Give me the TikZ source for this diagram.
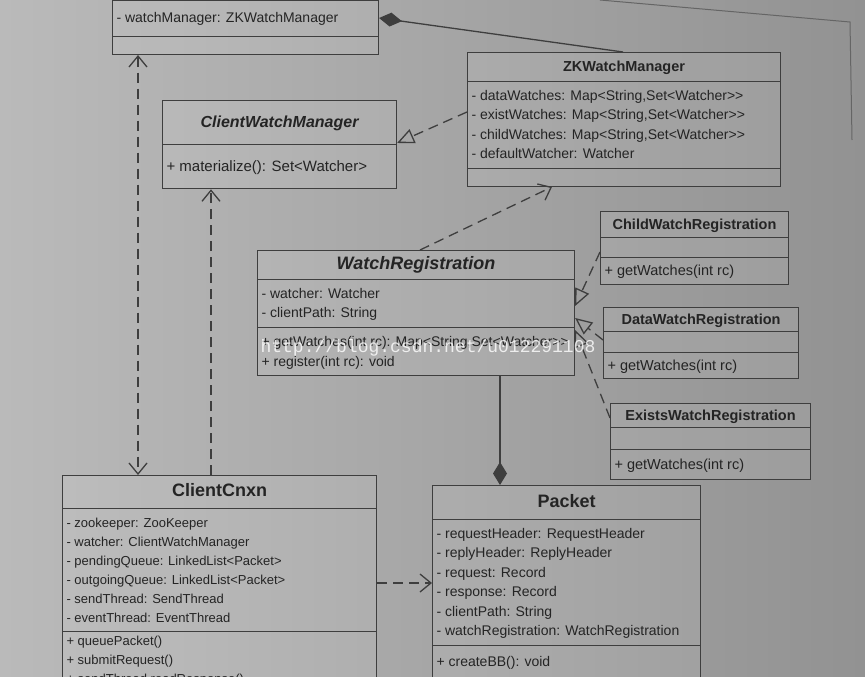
\documentclass[tikz,border=0pt]{standalone}
\usepackage{fontspec}
\setmainfont[Ligatures=TeXOff]{Liberation Sans}
\newfontfamily\wmfont{Liberation Mono}
\usetikzlibrary{shapes.multipart,arrows.meta}
\definecolor{linec}{RGB}{62,62,62}
\definecolor{textc}{RGB}{36,36,36}
\definecolor{bgl}{RGB}{186,186,186}
\definecolor{bgm}{RGB}{222,222,222}
\definecolor{bgr}{RGB}{146,146,146}
% one row of given height, text centred in it
\newcommand{\rowtx}[2]{\rule[\dimexpr4.5pt-#1/2\relax]{0pt}{#1}#2}
\newcommand{\ttl}[3]{\rowtx{#2}{{\fontsize{#1}{#1}\selectfont\bfseries #3}}}
\newcommand{\lnst}{\rule[-.27\baselineskip]{0pt}{\baselineskip}}
\tikzset{
  cls/.style={draw=linec, line width=1.1pt, fill=white, fill opacity=.08, text opacity=1,
    rectangle split, rectangle split parts=3, rectangle split part align={center,left,left},
    align=left, inner xsep=4pt, inner ysep=4pt, anchor=north west,
    font=\fontsize{#1}{19.5}\selectfont},
  dep/.style={draw=linec, line width=1.3pt, dash pattern=on 10pt off 6pt},
  assoc/.style={draw=linec, line width=1.3pt},
  barb/.tip={Straight Barb[length=11pt,width=18pt]},
  hollow/.tip={Triangle[open,length=17pt,width=15pt]},
  dia/.tip={Diamond[length=23pt,width=14pt,fill=linec]}
}
\begin{document}
\begin{tikzpicture}[x=1pt, y=-1pt, every node/.style={text=textc}]
  \useasboundingbox (0,0) rectangle (865,677);
  \clip (0,0) rectangle (865,677);
  \shade[left color=bgl, middle color=bgm, right color=bgr] (0,0) rectangle (865,677);
  \draw[linec!80, line width=1pt] (600,0) -- (850,22) -- (852,140);

  % classes
  \node[cls=14, anchor=south west, minimum width=266] (zk) at (112,55)
    {\rowtx{20pt}{}\nodepart{second}\rowtx{27pt}{- watchManager: ZKWatchManager}\nodepart{third}\rowtx{9pt}{}};
  \node[cls=14, minimum width=313] (zkwm) at (467,52)
    {\ttl{14.5}{20pt}{ZKWatchManager}
     \nodepart{second}\lnst - dataWatches: Map<String,Set<Watcher>>\\\lnst - existWatches: Map<String,Set<Watcher>>\\
       \lnst - childWatches: Map<String,Set<Watcher>>\\\lnst - defaultWatcher: Watcher
     \nodepart{third}\rowtx{8pt}{}};
  \node[cls=15, rectangle split parts=2, minimum width=234] (cwm) at (162,100)
    {\ttl{16}{35pt}{\itshape ClientWatchManager}\nodepart{second}\rowtx{35pt}{+ materialize(): Set<Watcher>}};
  \node[cls=14, minimum width=317] (wr) at (257,250)
    {\ttl{18}{20pt}{\itshape WatchRegistration}
     \nodepart{second}\lnst - watcher: Watcher\\\lnst - clientPath: String
     \nodepart{third}\lnst + getWatches(int rc): Map<String,Set<Watcher>>\\\lnst + register(int rc): void};
  \node[cls=14.5, minimum width=188] (child) at (600,211)
    {\ttl{14.5}{17pt}{ChildWatchRegistration}\nodepart{second}\rowtx{11pt}{}\nodepart{third}\rowtx{18pt}{+ getWatches(int rc)}};
  \node[cls=14.5, minimum width=195] (data) at (603,307)
    {\ttl{14.5}{15pt}{DataWatchRegistration}\nodepart{second}\rowtx{12pt}{}\nodepart{third}\rowtx{17pt}{+ getWatches(int rc)}};
  \node[cls=14.5, minimum width=200] (exists) at (610,403)
    {\ttl{14.5}{15pt}{ExistsWatchRegistration}\nodepart{second}\rowtx{13pt}{}\nodepart{third}\rowtx{21pt}{+ getWatches(int rc)}};
  \node[cls=13, font=\fontsize{13}{19}\selectfont, minimum width=314] (cnxn) at (62,475)
    {\ttl{18}{24pt}{ClientCnxn}
     \nodepart{second}\lnst - zookeeper: ZooKeeper\\\lnst - watcher: ClientWatchManager\\
       \lnst - pendingQueue: LinkedList<Packet>\\\lnst - outgoingQueue: LinkedList<Packet>\\
       \lnst - sendThread: SendThread\\\lnst - eventThread: EventThread
     \nodepart{third}+ queuePacket()\\\lnst + submitRequest()\\\lnst + sendThread.readResponse()};
  \node[cls=14, minimum width=268] (packet) at (432,485)
    {\ttl{18}{25pt}{Packet}
     \nodepart{second}\lnst - requestHeader: RequestHeader\\\lnst - replyHeader: ReplyHeader\\
       \lnst - request: Record\\\lnst - response: Record\\
       \lnst - clientPath: String\\\lnst - watchRegistration: WatchRegistration
     \nodepart{third}\rule[-30pt]{0pt}{46pt}+ createBB(): void};

  % relations
  \draw[assoc, dia-] ([yshift=37]zk.south east) -- ([xshift=156]zkwm.north west);
  \draw[dep, -hollow] ([yshift=-60]zkwm.north west) -- ([yshift=-43]cwm.north east);
  \draw[dep, -barb] ([xshift=163]wr.north west) -- ([xshift=85]zkwm.south west);
  \draw[dep, barb-barb] ([xshift=26]zk.south west) -- ([xshift=76]cnxn.north west);
  \draw[dep, -barb] ([xshift=149]cnxn.north west) -- ([xshift=49]cwm.south west);
  \foreach \n/\a/\b in {child/-41/-56, data/-33/-68, exists/-15/-80}
    \draw[dep, -hollow] ([yshift=\a]\n.north west) -- ([yshift=\b]wr.north east);
  \draw[assoc, -dia] ([xshift=243]wr.south west) -- ([xshift=68]packet.north west);
  \draw[dep, -barb] ([yshift=-108]cnxn.north east) -- ([yshift=-98]packet.north west);

  \node[text=white, text opacity=.8, font=\wmfont\fontsize{18}{18}\selectfont] (wm) at (428,348)
    {http://blog.csdn.net/u012291108};
\end{tikzpicture}
\end{document}
